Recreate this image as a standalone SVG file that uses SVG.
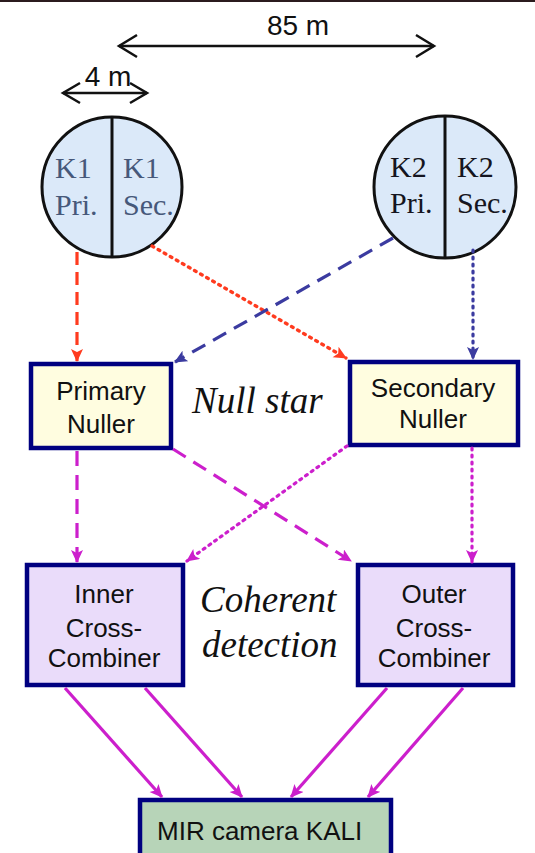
<svg xmlns="http://www.w3.org/2000/svg" width="535" height="853" viewBox="0 0 535 853">
<style>
.box{stroke:#000080;stroke-width:4.5}
.bt{font-family:"Liberation Sans",Arial,sans-serif;font-size:26px;fill:#111;text-anchor:middle}
.ct{font-family:"Liberation Serif","Times New Roman",serif;font-size:30px}
.it{font-family:"Liberation Serif","Times New Roman",serif;font-style:italic;font-size:37px;fill:#111}
.dim{fill:none;stroke:#111;stroke-width:2.5}
.red{stroke:#ff3b1f}
.blu{stroke:#3b3ba0}
.mag{stroke:#cc1fcc}
.c line{fill:none;stroke-width:3.2}
.dash{stroke-dasharray:15 9}
.dot{stroke-dasharray:2 5;stroke-linecap:round;stroke-width:3.6}
</style>
<defs>
<marker id="ar" markerUnits="userSpaceOnUse" markerWidth="14" markerHeight="14" refX="12" refY="6" orient="auto"><path d="M0,0 L13,6 L0,12 L3,6 z" fill="#ff3b1f"/></marker>
<marker id="ab" markerUnits="userSpaceOnUse" markerWidth="14" markerHeight="14" refX="12" refY="6" orient="auto"><path d="M0,0 L13,6 L0,12 L3,6 z" fill="#3b3ba0"/></marker>
<marker id="am" markerUnits="userSpaceOnUse" markerWidth="14" markerHeight="14" refX="12" refY="6" orient="auto"><path d="M0,0 L13,6 L0,12 L3,6 z" fill="#cc1fcc"/></marker>
</defs>
<rect x="0" y="0" width="535" height="2" fill="#2b1b1e"/>

<g id="dimensions">
<line class="dim" x1="119" y1="46" x2="434" y2="46"/>
<polyline class="dim" points="137,35 119,46 137,57"/>
<polyline class="dim" points="416,35 434,46 416,57"/>
<text x="298" y="35" text-anchor="middle" font-family="Liberation Sans,Arial,sans-serif" font-size="28" fill="#111">85 m</text>
<line class="dim" x1="63" y1="93" x2="147" y2="93"/>
<polyline class="dim" points="80,83 63,93 80,103"/>
<polyline class="dim" points="130,83 147,93 130,103"/>
<text x="108" y="86" text-anchor="middle" font-family="Liberation Sans,Arial,sans-serif" font-size="28" fill="#111">4 m</text>
</g>

<g id="k1">
<circle cx="112" cy="187" r="70" fill="#dbe9f9" stroke="#111" stroke-width="3"/>
<line x1="112" y1="117" x2="112" y2="257" stroke="#111" stroke-width="3"/>
<text class="ct" fill="#46587a" x="55" y="178">K1</text>
<text class="ct" fill="#46587a" x="55" y="215">Pri.</text>
<text class="ct" fill="#46587a" x="123" y="178">K1</text>
<text class="ct" fill="#46587a" x="123" y="215">Sec.</text>
</g>

<g id="k2">
<circle cx="445" cy="187" r="71" fill="#dbe9f9" stroke="#111" stroke-width="3"/>
<line x1="445" y1="116" x2="445" y2="258" stroke="#111" stroke-width="3"/>
<text class="ct" fill="#151520" x="390" y="177">K2</text>
<text class="ct" fill="#151520" x="390" y="213">Pri.</text>
<text class="ct" fill="#151520" x="457" y="177">K2</text>
<text class="ct" fill="#151520" x="457" y="213">Sec.</text>
</g>

<g id="primary-nuller">
<rect class="box" x="31" y="364" width="140" height="84" fill="#fffde0"/>
<text class="bt" x="101" y="400">Primary</text>
<text class="bt" x="101" y="433">Nuller</text>
</g>

<g id="secondary-nuller">
<rect class="box" x="350" y="362" width="168" height="83" fill="#fffde0"/>
<text class="bt" x="433" y="397">Secondary</text>
<text class="bt" x="433" y="428">Nuller</text>
</g>

<text class="it" x="192" y="413">Null star</text>

<g id="inner-cross-combiner">
<rect class="box" x="27" y="565" width="156" height="120" fill="#eadcfa"/>
<text class="bt" x="104" y="603">Inner</text>
<text class="bt" x="104" y="637">Cross-</text>
<text class="bt" x="104" y="667">Combiner</text>
</g>

<g id="outer-cross-combiner">
<rect class="box" x="358" y="565" width="155" height="120" fill="#eadcfa"/>
<text class="bt" x="434" y="603">Outer</text>
<text class="bt" x="434" y="637">Cross-</text>
<text class="bt" x="434" y="667">Combiner</text>
</g>

<text class="it" x="200" y="612">Coherent</text>
<text class="it" x="202" y="657">detection</text>

<g id="mir-camera">
<rect class="box" x="140" y="800" width="251" height="62" fill="#b7d4b8"/>
<text x="157" y="840" font-family="Liberation Sans,Arial,sans-serif" font-size="26" fill="#111">MIR camera KALI</text>
</g>

<g id="connectors" class="c">
<line class="red dash" x1="77" y1="252" x2="77" y2="361" marker-end="url(#ar)" style="stroke-dasharray:13 7"/>
<line class="red dot" x1="152" y1="246" x2="346" y2="358" marker-end="url(#ar)"/>
<line class="blu dash" x1="393" y1="238" x2="175" y2="362" marker-end="url(#ab)"/>
<line class="blu dot" x1="473" y1="250" x2="473" y2="359" marker-end="url(#ab)"/>
<line class="mag dash" x1="77" y1="451" x2="77" y2="562" marker-end="url(#am)"/>
<line class="mag dash" x1="173" y1="449" x2="351" y2="561" marker-end="url(#am)"/>
<line class="mag dot" x1="347" y1="446" x2="187" y2="561" marker-end="url(#am)"/>
<line class="mag dot" x1="472" y1="448" x2="472" y2="562" marker-end="url(#am)"/>
<line class="mag" x1="65" y1="688" x2="162" y2="797" marker-end="url(#am)"/>
<line class="mag" x1="145" y1="688" x2="242" y2="797" marker-end="url(#am)"/>
<line class="mag" x1="387" y1="688" x2="291" y2="797" marker-end="url(#am)"/>
<line class="mag" x1="463" y1="688" x2="368" y2="797" marker-end="url(#am)"/>
</g>
</svg>
